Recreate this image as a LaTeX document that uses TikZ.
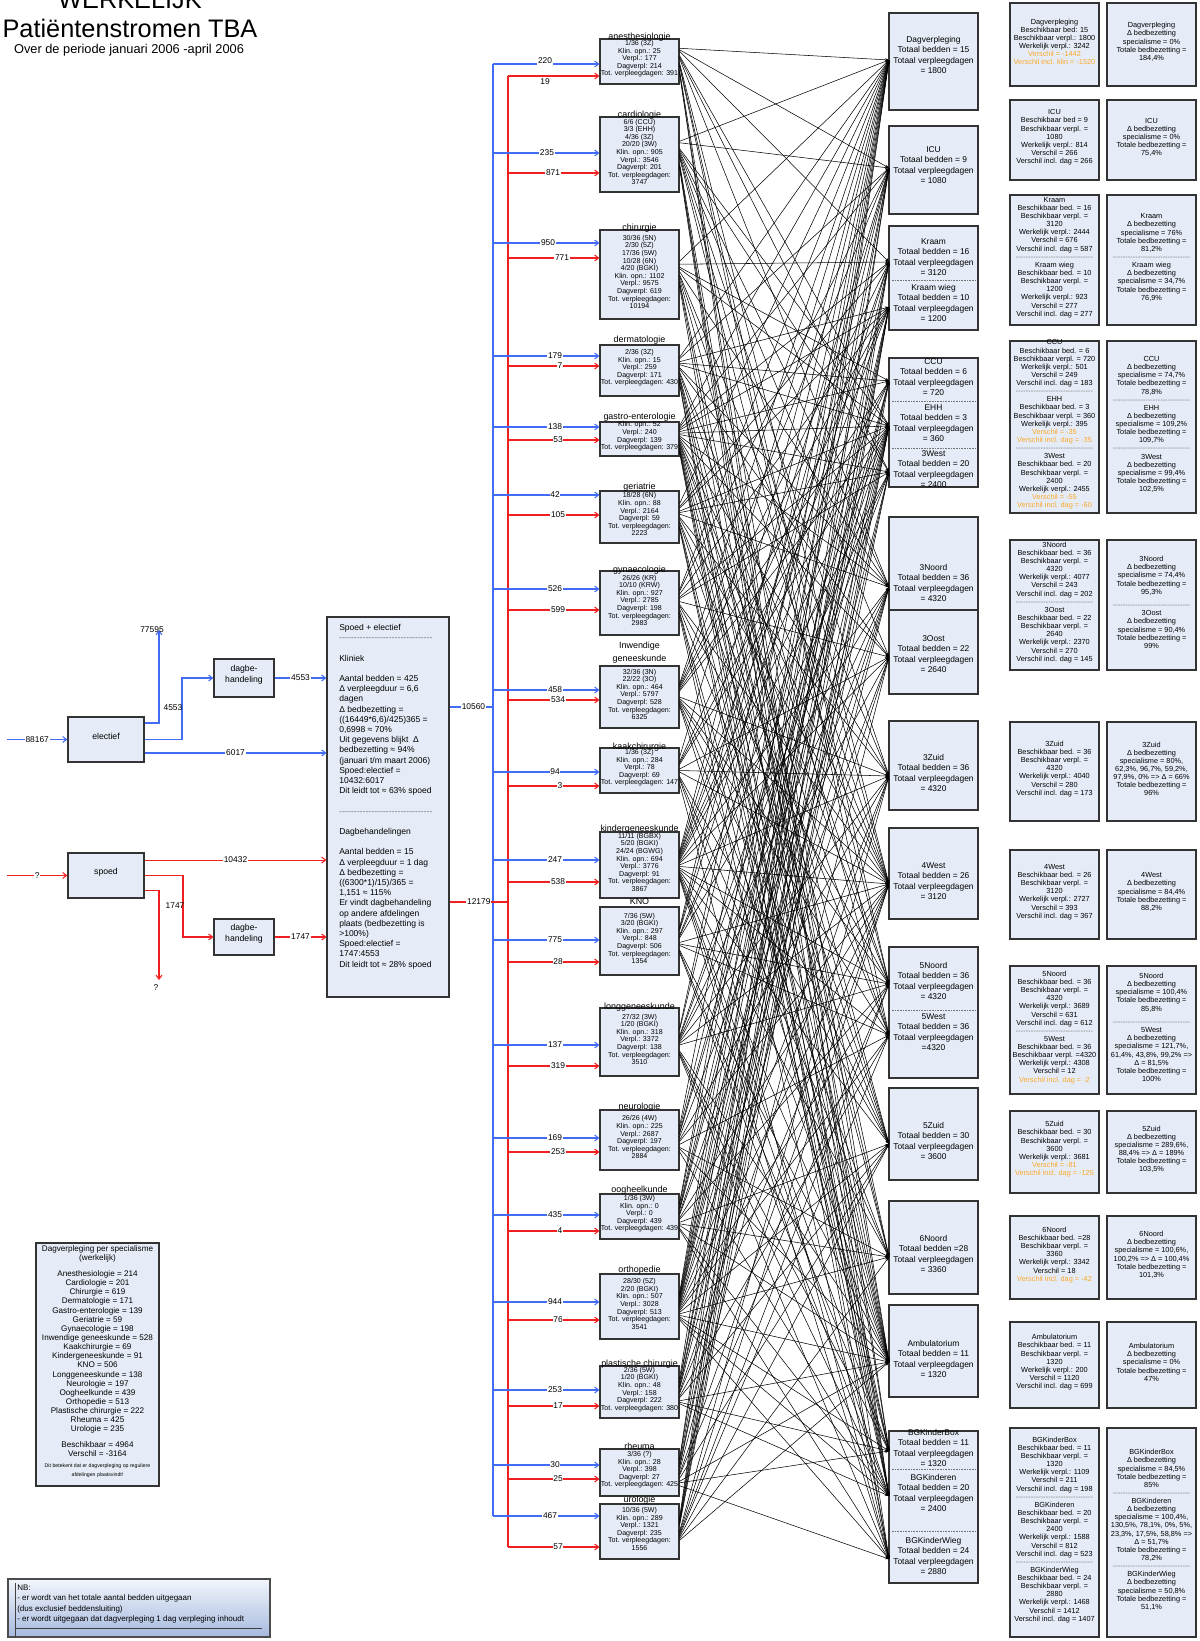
\documentclass[tikz,border=0pt]{standalone}
\usepackage{fontspec}
\setmainfont{Liberation Sans}
\usetikzlibrary{arrows.meta,fit}
\definecolor{boxfill}{RGB}{230,236,247}
\definecolor{fblue}{RGB}{66,108,245}
\definecolor{fred}{RGB}{240,32,32}
\definecolor{orng}{RGB}{250,168,40}
\definecolor{nbbot}{RGB}{165,185,222}
\newcommand{\mysep}[1]{\leavevmode{\color{black!55}\hbox to #1{\xleaders\hbox{-}\hfill}}}
\newcommand{\bx}[7]{\node[#6,fit={(#2,#3) (#4,#5)}] (#1) {#7};}
\newcommand{\fsz}[2]{\fontsize{#1}{#2}\selectfont}
\tikzset{
 obox/.style={draw=black!80,fill=boxfill,line width=0.8pt,inner sep=0pt,align=center},
 spec/.style={obox,font=\fsz{5.3}{5.7}},
 stitle/.style={font=\fsz{6.7}{7.5},inner sep=0pt,anchor=base},
 ward/.style={obox},
 wtxt/.style={font=\fsz{6.3}{7.9},align=center,inner sep=0pt},
 rbox/.style={obox,font=\fsz{5.5}{6.1}},
 flowbox/.style={obox,font=\fsz{6.5}{7.8}},
 lbl/.style={font=\fsz{6.3}{7},fill=white,text=black,inner sep=0.6pt},
 plbl/.style={font=\fsz{6.3}{7},text=black,inner sep=0.6pt},
 bl/.style={fblue,line width=0.8pt},
 rl/.style={fred,line width=0.8pt},
 arr/.style={-{Straight Barb[length=3pt,width=4.5pt]}},
 mesh/.style={black,line width=0.4pt,-{Stealth[length=3pt,width=2.2pt]}},
 sepline/.style={black!55,line width=0.4pt,dash pattern=on 1.2pt off 0.8pt},
}
\begin{document}
\begin{tikzpicture}[x=0.75pt,y=-0.75pt]
\useasboundingbox (0,0) rectangle (1199,1641);

% ---------- title
\node[font=\fsz{19}{21},anchor=base,inner sep=0pt] (ttl0) at (130,9) {WERKELIJK};
\node[font=\fsz{19}{21},anchor=base,inner sep=0pt] (ttl1) at (130,38) {Patiëntenstromen TBA};
\node[font=\fsz{9.6}{11},anchor=base,inner sep=0pt] (ttl2) at (129,54) {Over de periode januari 2006 -april 2006};

% ---------- left flow
\bx{elec}{68}{717}{144}{762}{flowbox}{electief}
\bx{spoed}{68}{853}{144}{898}{flowbox}{spoed}
\bx{dag1}{214}{659}{274}{697}{flowbox}{dagbe-\\handeling}
\bx{dag2}{214}{919}{274}{955}{flowbox}{dagbe-\\handeling}
\bx{se}{327}{617}{449}{997}{obox}{}
\node[font=\fsz{6.4}{7.65},align=left,anchor=north west,inner sep=0pt] (setext) at (339,624) {Spoed + electief\\\mysep{70pt}\\\mbox{}\\Kliniek\\\mbox{}\\Aantal bedden = 425\\Δ verpleegduur = 6,6\\dagen\\Δ bedbezetting =\\((16449*6,6)/425)365 =\\0,6998 ≈ 70\%\\Uit gegevens blijkt \ Δ\\bedbezetting ≈ 94\%\\(januari t/m maart 2006)\\Spoed:electief =\\10432:6017\\Dit leidt tot ≈ 63\% spoed\\\mbox{}\\\mysep{70pt}\\\mbox{}\\Dagbehandelingen\\\mbox{}\\Aantal bedden = 15\\Δ verpleegduur = 1 dag\\Δ bedbezetting =\\((6300*1)/15)/365 =\\1,151 ≈ 115\%\\Er vindt dagbehandeling\\op andere afdelingen\\plaats (bedbezetting is\\>100\%)\\Spoed:electief =\\1747:4553\\Dit leidt tot ≈ 28\% spoed};

\coordinate (in1) at (7,739.5);
\coordinate (in2) at (7,875.5);
\coordinate (up1) at (159,630);
\coordinate (k1) at (182,739.5);
\coordinate (k2) at (183,875.5);
\coordinate (dn) at (159,980);
\coordinate (e1) at ([yshift=12.4pt]elec.east);
\coordinate (e3) at ([yshift=-10.1pt]elec.east);
\coordinate (p1) at ([yshift=11.6pt]spoed.east);
\coordinate (p3) at ([yshift=-10.9pt]spoed.east);

\draw[bl,arr] (in1) -- node[lbl]{88167} (elec.west);
\draw[bl,arr] (e1) -| (up1);
\node[plbl,anchor=base] (l77595) at (152,632) {77595};
\draw[bl,arr] (elec.east) -- (k1) |- (dag1.west);
\node[plbl] (l4553a) at (173,708) {4553};
\draw[bl,arr] (e3) -- node[lbl]{6017} (se.west |- e3);
\draw[bl,arr] (dag1.east) -- node[lbl]{4553} (se.west |- dag1.east);

\draw[rl,arr] (in2) -- node[lbl]{?} (spoed.west);
\draw[rl,arr] (p1) -- node[lbl]{10432} (se.west |- p1);
\draw[rl,arr] (spoed.east) -- (k2) |- (dag2.west);
\node[plbl] (l1747a) at (175,906) {1747};
\draw[rl,arr] (dag2.east) -- node[lbl]{1747} (se.west |- dag2.east);
\draw[rl,arr] (p3) -| (dn);
\node[plbl] (lq) at (156,988) {?};

% ---------- specialty boxes
\bx{s1}{600}{39}{679}{84}{spec}{1/36 (3Z)\\Klin. opn.: 25\\Verpl.: 177\\Dagverpl: 214\\Tot. verpleegdagen: 391}
\node[stitle] (t1) at (639.5,40) {anesthesiologie};
\bx{s2}{600}{117}{679}{192}{spec}{6/6 (CCU)\\3/3 (EHH)\\4/36 (3Z)\\20/20 (3W)\\Klin. opn.: 905\\Verpl.: 3546\\Dagverpl: 201\\Tot. verpleegdagen:\\3747}
\node[stitle] (t2) at (639.5,118) {cardiologie};
\bx{s3}{600}{230}{679}{319}{spec}{30/36 (5N)\\2/30 (5Z)\\17/36 (5W)\\10/28 (6N)\\4/20 (BGKI)\\Klin. opn.: 1102\\Verpl.: 9575\\Dagverpl: 619\\Tot. verpleegdagen:\\10194}
\node[stitle] (t3) at (639.5,230) {chirurgie};
\bx{s4}{600}{345}{679}{396}{spec}{2/36 (3Z)\\Klin. opn.: 15\\Verpl.: 259\\Dagverpl: 171\\Tot. verpleegdagen: 430}
\node[stitle] (t4) at (639.5,342) {dermatologie};
\bx{s5}{600}{422}{679}{456}{spec}{Klin. opn.: 52\\Verpl.: 240\\Dagverpl: 139\\Tot. verpleegdagen: 379}
\node[stitle] (t5) at (639.5,419) {gastro-enterologie};
\bx{s6}{600}{491}{679}{543}{spec}{18/28 (6N)\\Klin. opn.: 88\\Verpl.: 2164\\Dagverpl: 59\\Tot. verpleegdagen:\\2223}
\node[stitle] (t6) at (639.5,489) {geriatrie};
\bx{s7}{600}{571}{679}{635}{spec}{26/26 (KR)\\10/10 (KRW)\\Klin. opn.: 927\\Verpl.: 2785\\Dagverpl: 198\\Tot. verpleegdagen:\\2983}
\node[stitle] (t7) at (639.5,572) {gynaecologie};
\bx{s8}{600}{666}{679}{728}{spec}{32/36 (3N)\\22/22 (3O)\\Klin. opn.: 464\\Verpl.: 5797\\Dagverpl: 528\\Tot. verpleegdagen:\\6325}
\node[stitle] (t8a) at (639.5,648) {Inwendige};
\node[stitle] (t8) at (639.5,661) {geneeskunde};
\bx{s9}{600}{748}{679}{793}{spec}{1/36 (3Z)\\Klin. opn.: 284\\Verpl.: 78\\Dagverpl: 69\\Tot. verpleegdagen: 147}
\node[stitle] (t9) at (639.5,749) {kaakchirurgie};
\bx{s10}{600}{832}{679}{898}{spec}{11/11 (BGBX)\\5/20 (BGKI)\\24/24 (BGWG)\\Klin. opn.: 694\\Verpl.: 3776\\Dagverpl: 91\\Tot. verpleegdagen:\\3867}
\node[stitle] (t10) at (639.5,831) {kindergeneeskunde};
\bx{s11}{600}{907}{679}{975}{spec}{7/36 (5W)\\3/20 (BGKI)\\Klin. opn.: 297\\Verpl.: 848\\Dagverpl: 506\\Tot. verpleegdagen:\\1354}
\node[stitle] (t11) at (639.5,904) {KNO};
\bx{s12}{600}{1008}{679}{1076}{spec}{27/32 (3W)\\1/20 (BGKI)\\Klin. opn.: 318\\Verpl.: 3372\\Dagverpl: 138\\Tot. verpleegdagen:\\3510}
\node[stitle] (t12) at (639.5,1009) {longgeneeskunde};
\bx{s13}{600}{1110}{679}{1170}{spec}{26/26 (4W)\\Klin. opn.: 225\\Verpl.: 2687\\Dagverpl: 197\\Tot. verpleegdagen:\\2884}
\node[stitle] (t13) at (639.5,1109) {neurologie};
\bx{s14}{600}{1194}{679}{1239}{spec}{1/36 (3W)\\Klin. opn.: 0\\Verpl.: 0\\Dagverpl: 439\\Tot. verpleegdagen: 439}
\node[stitle] (t14) at (639.5,1192) {oogheelkunde};
\bx{s15}{600}{1274}{679}{1339}{spec}{28/30 (5Z)\\2/20 (BGKI)\\Klin. opn.: 507\\Verpl.: 3028\\Dagverpl: 513\\Tot. verpleegdagen:\\3541}
\node[stitle] (t15) at (639.5,1272) {orthopedie};
\bx{s16}{600}{1366}{679}{1418}{spec}{2/36 (5W)\\1/20 (BGKI)\\Klin. opn.: 48\\Verpl.: 158\\Dagverpl: 222\\Tot. verpleegdagen: 380}
\node[stitle] (t16) at (639.5,1366) {plastische chirurgie};
\bx{s17}{600}{1449}{679}{1496}{spec}{3/36 (?)\\Klin. opn.: 28\\Verpl.: 398\\Dagverpl: 27\\Tot. verpleegdagen: 425}
\node[stitle] (t17) at (639.5,1449) {rheuma};
\bx{s18}{600}{1504}{679}{1559}{spec}{10/36 (5W)\\Klin. opn.: 289\\Verpl.: 1321\\Dagverpl: 235\\Tot. verpleegdagen:\\1556}
\node[stitle] (t18) at (639.5,1502) {urologie};

% ---------- buses and feeding lines
% n / blue y / red y / blue text / red text / blue label x / red label x / blue label y / red label y
\foreach \n/\yb/\yr/\tb/\tr/\xb/\xr/\lb/\lr in {1/64/76/220/19/545/545/61/82,2/153/173/235/871/547/553/153/173,3/243/258/950/771/548/562/243/258,4/356/366/179/7/555/560/356/366,5/427/440/138/53/555/558/427/440,6/495/515/42/105/555/558/495/515,7/589/610/526/599/555/558/589/610,8/690/700/458/534/555/558/690/700,9/772/786/94/3/555/560/772/786,10/860/882/247/538/555/558/860/882,11/940/962/775/28/555/558/940/962,12/1045/1066/137/319/555/558/1045/1066,13/1138/1152/169/253/555/558/1138/1152,14/1215/1231/435/4/555/560/1215/1231,15/1302/1320/944/76/555/558/1302/1320,16/1390/1406/253/17/555/558/1390/1406,17/1465/1479/30/25/555/558/1465/1479,18/1516/1547/467/57/550/558/1516/1547}{
  \coordinate (bb\n) at (493,\yb);
  \coordinate (rb\n) at (508,\yr);
  \coordinate (eb\n) at (0,\yb);
  \coordinate (er\n) at (0,\yr);
}
\coordinate (busb) at (493,707);
\coordinate (busr) at (508,902);
\draw[bl] (bb1) -- (bb18);
\draw[rl] (rb1) -- (rb18);
\draw[bl] (se.east |- busb) -- node[lbl,pos=0.55]{10560} (busb);
\draw[rl] (se.east |- busr) -- node[lbl,pos=0.5]{12179} (busr);
\foreach \n/\yb/\yr/\tb/\tr/\xb/\xr/\lb/\lr in {1/64/76/220/19/545/545/61/82,2/153/173/235/871/547/553/153/173,3/243/258/950/771/548/562/243/258,4/356/366/179/7/555/560/356/366,5/427/440/138/53/555/558/427/440,6/495/515/42/105/555/558/495/515,7/589/610/526/599/555/558/589/610,8/690/700/458/534/555/558/690/700,9/772/786/94/3/555/560/772/786,10/860/882/247/538/555/558/860/882,11/940/962/775/28/555/558/940/962,12/1045/1066/137/319/555/558/1045/1066,13/1138/1152/169/253/555/558/1138/1152,14/1215/1231/435/4/555/560/1215/1231,15/1302/1320/944/76/555/558/1302/1320,16/1390/1406/253/17/555/558/1390/1406,17/1465/1479/30/25/555/558/1465/1479,18/1516/1547/467/57/550/558/1516/1547}{
  \draw[bl,arr] (bb\n) -- (s\n.west |- eb\n);
  \draw[rl,arr] (rb\n) -- (s\n.west |- er\n);
  \node[lbl] (lb\n) at (\xb,\lb) {\tb};
  \node[lbl] (lr\n) at (\xr,\lr) {\tr};
}

% ---------- ward boxes
\bx{wb1}{889}{13}{978}{110}{ward}{}
\node[wtxt] (w1) at (933.5,55) {Dagverpleging\\Totaal bedden = 15\\Totaal verpleegdagen\\= 1800};
\bx{wb2}{889}{126}{978}{214}{ward}{}
\node[wtxt] (w2) at (933.5,165) {ICU\\Totaal bedden = 9\\Totaal verpleegdagen\\= 1080};
\bx{wb3}{889}{226}{978}{330}{ward}{}
\node[wtxt] (w3) at (933.5,257) {Kraam\\Totaal bedden = 16\\Totaal verpleegdagen\\= 3120};
\draw[sepline] (892,280) -- (975,280);
\node[wtxt] (w4) at (933.5,303) {Kraam wieg\\Totaal bedden = 10\\Totaal verpleegdagen\\= 1200};
\bx{wb4}{889}{358}{978}{487}{ward}{}
\node[wtxt] (w5) at (933.5,377) {CCU\\Totaal bedden = 6\\Totaal verpleegdagen\\= 720};
\draw[sepline] (892,401) -- (975,401);
\node[wtxt] (w6) at (933.5,423) {EHH\\Totaal bedden = 3\\Totaal verpleegdagen\\= 360};
\draw[sepline] (892,448) -- (975,448);
\node[wtxt] (w7) at (933.5,469) {3West\\Totaal bedden = 20\\Totaal verpleegdagen\\= 2400};
\bx{wb5}{889}{517}{978}{610}{ward}{}
\node[wtxt] (w8) at (933.5,583) {3Noord\\Totaal bedden = 36\\Totaal verpleegdagen\\= 4320};
\bx{wb6}{889}{610}{978}{694}{ward}{}
\node[wtxt] (w9) at (933.5,654) {3Oost\\Totaal bedden = 22\\Totaal verpleegdagen\\= 2640};
\bx{wb7}{889}{721}{978}{810}{ward}{}
\node[wtxt] (w10) at (933.5,773) {3Zuid\\Totaal bedden = 36\\Totaal verpleegdagen\\= 4320};
\bx{wb8}{889}{828}{978}{919}{ward}{}
\node[wtxt] (w11) at (933.5,881) {4West\\Totaal bedden = 26\\Totaal verpleegdagen\\= 3120};
\bx{wb9}{889}{947}{978}{1078}{ward}{}
\node[wtxt] (w12) at (933.5,981) {5Noord\\Totaal bedden = 36\\Totaal verpleegdagen\\= 4320};
\draw[sepline] (892,1010) -- (975,1010);
\node[wtxt] (w13) at (933.5,1032) {5West\\Totaal bedden = 36\\Totaal verpleegdagen\\=4320};
\bx{wb10}{889}{1088}{978}{1180}{ward}{}
\node[wtxt] (w14) at (933.5,1141) {5Zuid\\Totaal bedden = 30\\Totaal verpleegdagen\\= 3600};
\bx{wb11}{889}{1201}{978}{1294}{ward}{}
\node[wtxt] (w15) at (933.5,1254) {6Noord\\Totaal bedden =28\\Totaal verpleegdagen\\= 3360};
\bx{wb12}{889}{1305}{978}{1397}{ward}{}
\node[wtxt] (w16) at (933.5,1359) {Ambulatorium\\Totaal bedden = 11\\Totaal verpleegdagen\\= 1320};
\bx{wb13}{889}{1431}{978}{1583}{ward}{}
\node[wtxt] (w17) at (933.5,1448) {BGKinderBox\\Totaal bedden = 11\\Totaal verpleegdagen\\= 1320};
\draw[sepline] (892,1469) -- (975,1469);
\node[wtxt] (w18) at (933.5,1493) {BGKinderen\\Totaal bedden = 20\\Totaal verpleegdagen\\= 2400};
\draw[sepline] (892,1531) -- (975,1531);
\node[wtxt] (w19) at (933.5,1556) {BGKinderWieg\\Totaal bedden = 24\\Totaal verpleegdagen\\= 2880};

% ward anchors
\foreach \j/\y in {1/60,2/168,3/262,4/307,5/381,6/426,7/472,8/587,9/657,10/776,11/884,12/984,13/1035,14/1144,15/1257,16/1362,17/1451,18/1496,19/1559}{
  \coordinate (a\j) at (889,\y);
}

% ---------- mesh
\foreach \i in {1,...,18}{
  \foreach \j in {1,...,19}{
    \pgfmathtruncatemacro{\r}{\j==1 ? 0 : mod(\i*7+\j*5+\i*\j*3,10)}
    \ifnum\r<7\relax
      \draw[mesh] ([yshift={(10-\j)*1.1pt}]s\i.east) -- (a\j);
    \fi
  }
}

% ---------- right columns
\bx{ra1}{1010}{3}{1099}{86}{rbox}{Dagverpleging\\Beschikbaar bed: 15\\Beschikbaar verpl.: 1800\\Werkelijk verpl.: 3242\\\textcolor{orng}{Verschil = -1442}\\\textcolor{orng}{Verschil incl. klin = -1520}}
\bx{rb1}{1107}{3}{1196}{86}{rbox}{Dagverpleging\\Δ bedbezetting\\specialisme = 0\%\\Totale bedbezetting =\\184,4\%}
\bx{ra2}{1010}{100}{1099}{180}{rbox}{ICU\\Beschikbaar bed = 9\\Beschikbaar verpl. =\\1080\\Werkelijk verpl.: 814\\Verschil = 266\\Verschil incl. dag = 266}
\bx{rb2}{1107}{100}{1196}{180}{rbox}{ICU\\Δ bedbezetting\\specialisme = 0\%\\Totale bedbezetting =\\75,4\%}
\bx{ra3}{1010}{195}{1099}{325}{rbox}{Kraam\\Beschikbaar bed. = 16\\Beschikbaar verpl. =\\3120\\Werkelijk verpl.: 2444\\Verschil = 676\\Verschil incl. dag = 587\\\mysep{58pt}\\Kraam wieg\\Beschikbaar bed. = 10\\Beschikbaar verpl. =\\1200\\Werkelijk verpl.: 923\\Verschil = 277\\Verschil incl. dag = 277}
\bx{rb3}{1107}{195}{1196}{325}{rbox}{Kraam\\Δ bedbezetting\\specialisme = 76\%\\Totale bedbezetting =\\81,2\%\\\mysep{58pt}\\Kraam wieg\\Δ bedbezetting\\specialisme = 34,7\%\\Totale bedbezetting =\\76,9\%}
\bx{ra4}{1010}{341}{1099}{513}{rbox}{CCU\\Beschikbaar bed. = 6\\Beschikbaar verpl. = 720\\Werkelijk verpl.: 501\\Verschil = 249\\Verschil incl. dag = 183\\\mysep{58pt}\\EHH\\Beschikbaar bed. = 3\\Beschikbaar verpl. = 360\\Werkelijk verpl.: 395\\\textcolor{orng}{Verschil = -35}\\\textcolor{orng}{Verschil incl. dag = -35}\\\mysep{58pt}\\3West\\Beschikbaar bed. = 20\\Beschikbaar verpl. =\\2400\\Werkelijk verpl.: 2455\\\textcolor{orng}{Verschil = -55}\\\textcolor{orng}{Verschil incl. dag = -60}}
\bx{rb4}{1107}{341}{1196}{513}{rbox}{CCU\\Δ bedbezetting\\specialisme = 74,7\%\\Totale bedbezetting =\\78,8\%\\\mysep{58pt}\\EHH\\Δ bedbezetting\\specialisme = 109,2\%\\Totale bedbezetting =\\109,7\%\\\mysep{58pt}\\3West\\Δ bedbezetting\\specialisme = 99,4\%\\Totale bedbezetting =\\102,5\%}
\bx{ra5}{1010}{540}{1099}{670}{rbox}{3Noord\\Beschikbaar bed. = 36\\Beschikbaar verpl. =\\4320\\Werkelijk verpl.: 4077\\Verschil = 243\\Verschil incl. dag = 202\\\mysep{58pt}\\3Oost\\Beschikbaar bed. = 22\\Beschikbaar verpl. =\\2640\\Werkelijk verpl.: 2370\\Verschil = 270\\Verschil incl. dag = 145}
\bx{rb5}{1107}{540}{1196}{670}{rbox}{3Noord\\Δ bedbezetting\\specialisme = 74,4\%\\Totale bedbezetting =\\95,3\%\\[4pt]\mysep{58pt}\\3Oost\\Δ bedbezetting\\specialisme = 90,4\%\\Totale bedbezetting =\\99\%}
\bx{ra6}{1010}{722}{1099}{821}{rbox}{3Zuid\\Beschikbaar bed. = 36\\Beschikbaar verpl. =\\4320\\Werkelijk verpl.: 4040\\Verschil = 280\\Verschil incl. dag = 173}
\bx{rb6}{1107}{722}{1196}{821}{rbox}{3Zuid\\Δ bedbezetting\\specialisme = 80\%,\\62,3\%, 96,7\%, 59,2\%,\\97,9\%, 0\% => Δ = 66\%\\Totale bedbezetting =\\96\%}
\bx{ra7}{1010}{850}{1099}{939}{rbox}{4West\\Beschikbaar bed. = 26\\Beschikbaar verpl. =\\3120\\Werkelijk verpl.: 2727\\Verschil = 393\\Verschil incl. dag = 367}
\bx{rb7}{1107}{850}{1196}{939}{rbox}{4West\\Δ bedbezetting\\specialisme = 84,4\%\\Totale bedbezetting =\\88,2\%}
\bx{ra8}{1010}{966}{1099}{1094}{rbox}{5Noord\\Beschikbaar bed. = 36\\Beschikbaar verpl. =\\4320\\Werkelijk verpl.: 3689\\Verschil = 631\\Verschil incl. dag = 612\\\mysep{58pt}\\5West\\Beschikbaar bed. = 36\\Beschikbaar verpl. =4320\\Werkelijk verpl.: 4308\\Verschil = 12\\\textcolor{orng}{Verschil incl. dag = -2}}
\bx{rb8}{1107}{966}{1196}{1094}{rbox}{5Noord\\Δ bedbezetting\\specialisme = 100,4\%\\Totale bedbezetting =\\85,8\%\\[4pt]\mysep{58pt}\\5West\\Δ bedbezetting\\specialisme = 121,7\%,\\61,4\%, 43,8\%, 99,2\% =>\\Δ = 81,5\%\\Totale bedbezetting =\\100\%}
\bx{ra9}{1010}{1111}{1099}{1193}{rbox}{5Zuid\\Beschikbaar bed. = 30\\Beschikbaar verpl. =\\3600\\Werkelijk verpl.: 3681\\\textcolor{orng}{Verschil = -81}\\\textcolor{orng}{Verschil incl. dag = -125}}
\bx{rb9}{1107}{1111}{1196}{1193}{rbox}{5Zuid\\Δ bedbezetting\\specialisme = 289,6\%,\\88,4\% => Δ = 189\%\\Totale bedbezetting =\\103,5\%}
\bx{ra10}{1010}{1216}{1099}{1299}{rbox}{6Noord\\Beschikbaar bed. =28\\Beschikbaar verpl. =\\3360\\Werkelijk verpl.: 3342\\Verschil = 18\\\textcolor{orng}{Verschil incl. dag = -42}}
\bx{rb10}{1107}{1216}{1196}{1299}{rbox}{6Noord\\Δ bedbezetting\\specialisme = 100,6\%,\\100,2\% => Δ = 100,4\%\\Totale bedbezetting =\\101,3\%}
\bx{ra11}{1010}{1322}{1099}{1408}{rbox}{Ambulatorium\\Beschikbaar bed. = 11\\Beschikbaar verpl. =\\1320\\Werkelijk verpl.: 200\\Verschil = 1120\\Verschil incl. dag = 699}
\bx{rb11}{1107}{1322}{1196}{1408}{rbox}{Ambulatorium\\Δ bedbezetting\\specialisme = 0\%\\Totale bedbezetting =\\47\%}
\bx{ra12}{1010}{1428}{1099}{1637}{rbox}{BGKinderBox\\Beschikbaar bed. = 11\\Beschikbaar verpl. =\\1320\\Werkelijk verpl.: 1109\\Verschil = 211\\Verschil incl. dag = 198\\\mysep{58pt}\\BGKinderen\\Beschikbaar bed. = 20\\Beschikbaar verpl. =\\2400\\Werkelijk verpl.: 1588\\Verschil = 812\\Verschil incl. dag = 523\\\mysep{58pt}\\BGKinderWieg\\Beschikbaar bed. = 24\\Beschikbaar verpl. =\\2880\\Werkelijk verpl.: 1468\\Verschil = 1412\\Verschil incl. dag = 1407}
\bx{rb12}{1107}{1428}{1196}{1637}{rbox}{BGKinderBox\\Δ bedbezetting\\specialisme = 84,5\%\\Totale bedbezetting =\\85\%\\\mysep{58pt}\\BGKinderen\\Δ bedbezetting\\specialisme = 100,4\%,\\130,5\%, 78,1\%, 0\%, 5\%,\\23,3\%, 17,5\%, 58,8\% =>\\Δ = 51,7\%\\Totale bedbezetting =\\78,2\%\\\mysep{58pt}\\BGKinderWieg\\Δ bedbezetting\\specialisme = 50,8\%\\Totale bedbezetting =\\51,1\%}

% ---------- legend
\bx{leg}{36}{1243}{159}{1486}{obox,font=\fsz{6.1}{6.85}}{Dagverpleging per specialisme\\(werkelijk)\\[5pt]Anesthesiologie = 214\\Cardiologie = 201\\Chirurgie = 619\\Dermatologie = 171\\Gastro-enterologie = 139\\Geriatrie = 59\\Gynaecologie = 198\\Inwendige geneeskunde = 528\\Kaakchirurgie = 69\\Kindergeneeskunde = 91\\KNO = 506\\Longgeneeskunde = 138\\Neurologie = 197\\Oogheelkunde = 439\\Orthopedie = 513\\Plastische chirurgie = 222\\Rheuma = 425\\Urologie = 235\\[5pt]Beschikbaar = 4964\\Verschil = -3164\\[3pt]\fsz{3.9}{4.8}Dit betekent dat er dagverpleging op reguliere\\\fsz{3.9}{4.8}afdelingen plaatsvindt!}

% ---------- NB
\bx{nb}{8}{1579}{270}{1637}{draw=black!70,line width=0.8pt,inner sep=0pt,top color=boxfill!50!white,bottom color=nbbot}{}
\draw[black!75,line width=0.6pt] (15,1583) -- (15,1637);
\draw[black!75,line width=0.6pt] (15,1628) -- (262,1628);
\node[font=\fsz{6}{7.6},align=left,anchor=north west,inner sep=0pt] (nbt) at (17,1585) {NB:\\- er wordt van het totale aantal bedden uitgegaan\\(dus exclusief beddensluiting)\\- er wordt uitgegaan dat dagverpleging 1 dag verpleging inhoudt};
\end{tikzpicture}
\end{document}
